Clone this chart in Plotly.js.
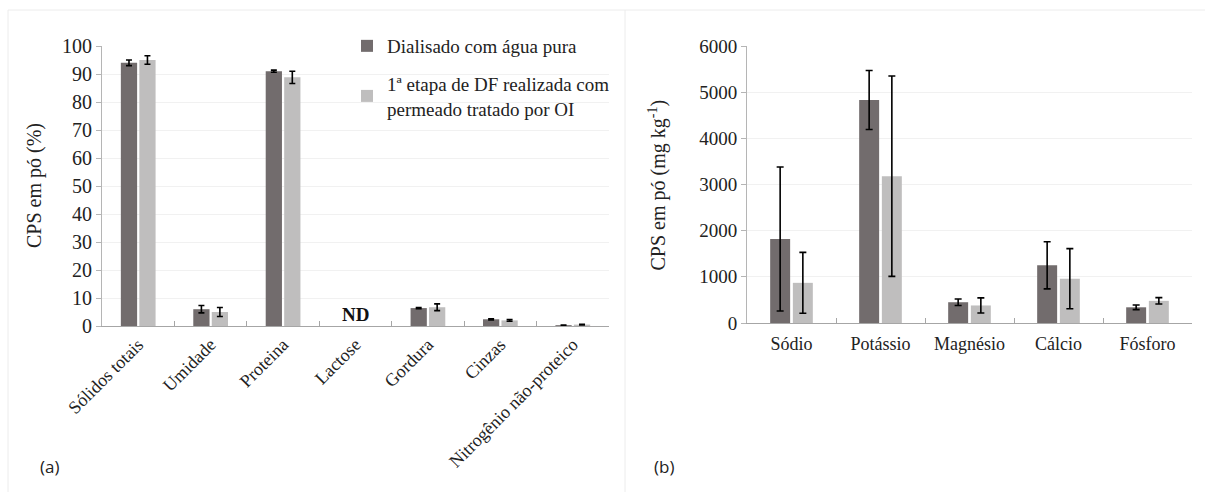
<!DOCTYPE html>
<html>
<head>
<meta charset="utf-8">
<script src="https://cdn.plot.ly/plotly-3.0.1.min.js"></script>
<style>html,body{margin:0;padding:0;background:#fff;}#chart{width:1205px;height:492px;}</style>
</head>
<body>
<div id="chart"></div>
<script>
// Panel (a): composition
const catsA = ["Sólidos totais", "Umidade", "Proteina", "Lactose", "Gordura", "Cinzas", "Nitrogênio não-proteico"];
const darkA = [94.0, 6.0, 91.0, null, 6.4, 2.4, 0.3];
const darkAErr = [1.0, 1.3, 0.4, null, 0.2, 0.2, 0.05];
const lightA = [95.0, 5.0, 88.8, null, 6.7, 2.0, 0.5];
const lightAErr = [1.5, 1.6, 2.2, null, 1.2, 0.3, 0.1];

// Panel (b): minerals
const catsB = ["Sódio", "Potássio", "Magnésio", "Cálcio", "Fósforo"];
const darkB = [1820, 4830, 450, 1250, 340];
const darkBErr = [1560, 640, 70, 510, 50];
const lightB = [870, 3180, 380, 960, 480];
const lightBErr = [660, 2170, 165, 650, 70];

const seriesNames = ["Dialisado com água pura", "1ª etapa de DF realizada com<br>permeado tratado por OI"];
const yTicksA = [0, 10, 20, 30, 40, 50, 60, 70, 80, 90, 100];
const yTicksB = [0, 1000, 2000, 3000, 4000, 5000, 6000];

const DARK = "#726c6d", LIGHT = "#bfbebe";
const serif = "Liberation Serif";

function err(arr, w) {
  return {type: "data", array: arr, visible: true, color: "#000", thickness: 1.6, width: w};
}

const traces = [
  {type: "bar", x: catsA, y: darkA, name: seriesNames[0], marker: {color: DARK}, error_y: err(darkAErr, 3), xaxis: "x", yaxis: "y", legendgroup: "a"},
  {type: "bar", x: catsA, y: lightA, name: seriesNames[1], marker: {color: LIGHT}, error_y: err(lightAErr, 3), xaxis: "x", yaxis: "y", legendgroup: "b"},
  {type: "bar", x: catsB, y: darkB, name: seriesNames[0], marker: {color: DARK}, error_y: err(darkBErr, 3.5), xaxis: "x2", yaxis: "y2", showlegend: false},
  {type: "bar", x: catsB, y: lightB, name: seriesNames[1], marker: {color: LIGHT}, error_y: err(lightBErr, 3.5), xaxis: "x2", yaxis: "y2", showlegend: false}
];

const W = 1205, H = 492;
const px = v => v / W, py = v => 1 - v / H;

const xCommon = {
  showline: true, linecolor: "#a6a6a6", linewidth: 1,
  ticks: "inside", tickson: "boundaries", ticklen: 5, tickcolor: "#a6a6a6",
  showgrid: false, zeroline: false
};
const yCommon = {
  showline: true, linecolor: "#b5b5b5", linewidth: 1,
  ticks: "outside", ticklen: 5, tickcolor: "#b5b5b5",
  showgrid: true, gridcolor: "#f1f1f1", zeroline: false
};

const layout = {
  width: W, height: H,
  font: {family: serif, size: 18, color: "#222"},
  margin: {l: 0, r: 0, t: 0, b: 0},
  paper_bgcolor: "#fff", plot_bgcolor: "#fff",
  barmode: "group", bargap: 0.49, bargroupgap: 0.12,
  showlegend: true,
  legend: {x: px(347), y: py(27), xanchor: "left", yanchor: "top",
    font: {family: serif, size: 19, color: "#222"}, bgcolor: "rgba(0,0,0,0)",
    traceorder: "grouped", tracegroupgap: 10, itemwidth: 30},
  xaxis: Object.assign({}, xCommon, {domain: [px(102), px(609)], anchor: "y", tickangle: -45,
    tickfont: {family: serif, size: 18, color: "#222"}}),
  yaxis: Object.assign({}, yCommon, {domain: [py(326), py(46)], anchor: "x", range: [0, 100], tickvals: yTicksA,
    tickfont: {family: serif, size: 20, color: "#222"}}),
  xaxis2: Object.assign({}, xCommon, {domain: [px(747), px(1192)], anchor: "y2", tickangle: 0, ticklabelstandoff: 4,
    tickfont: {family: serif, size: 18, color: "#222"}}),
  yaxis2: Object.assign({}, yCommon, {domain: [py(323), py(46)], anchor: "x2", range: [0, 6000], tickvals: yTicksB,
    tickfont: {family: serif, size: 19, color: "#222"}}),
  annotations: [
    {xref: "x", yref: "y", x: "Lactose", y: 4, text: "<b>ND</b>", showarrow: false,
      font: {family: serif, size: 19, color: "#111"}},
    {xref: "paper", yref: "paper", x: px(34), y: (py(326) + py(46)) / 2, xanchor: "center", yanchor: "middle",
      text: "CPS em pó (%)", textangle: -90, showarrow: false, font: {family: serif, size: 20, color: "#222"}},
    {xref: "paper", yref: "paper", x: px(657), y: (py(323) + py(46)) / 2, xanchor: "center", yanchor: "middle",
      text: "CPS em pó (mg kg<sup>-1</sup>)", textangle: -90, showarrow: false, font: {family: serif, size: 20, color: "#222"}},
    {xref: "paper", yref: "paper", x: px(49), y: py(466), xanchor: "center", yanchor: "middle", text: "(a)", showarrow: false,
      font: {family: "Open Sans", size: 17, color: "#222"}},
    {xref: "paper", yref: "paper", x: px(664), y: py(466), xanchor: "center", yanchor: "middle", text: "(b)", showarrow: false,
      font: {family: "Open Sans", size: 17, color: "#222"}}
  ],
  shapes: [
    {type: "line", xref: "paper", yref: "paper", x0: px(8), x1: 1, y0: py(10), y1: py(10), line: {color: "#ececec", width: 1}},
    {type: "line", xref: "paper", yref: "paper", x0: px(8), x1: px(8), y0: py(10), y1: 0, line: {color: "#ececec", width: 1}},
    {type: "line", xref: "paper", yref: "paper", x0: px(625), x1: px(625), y0: py(10), y1: 0, line: {color: "#ececec", width: 1}}
  ]
};

Plotly.newPlot("chart", traces, layout, {displayModeBar: false, staticPlot: true});
</script>
</body>
</html>
